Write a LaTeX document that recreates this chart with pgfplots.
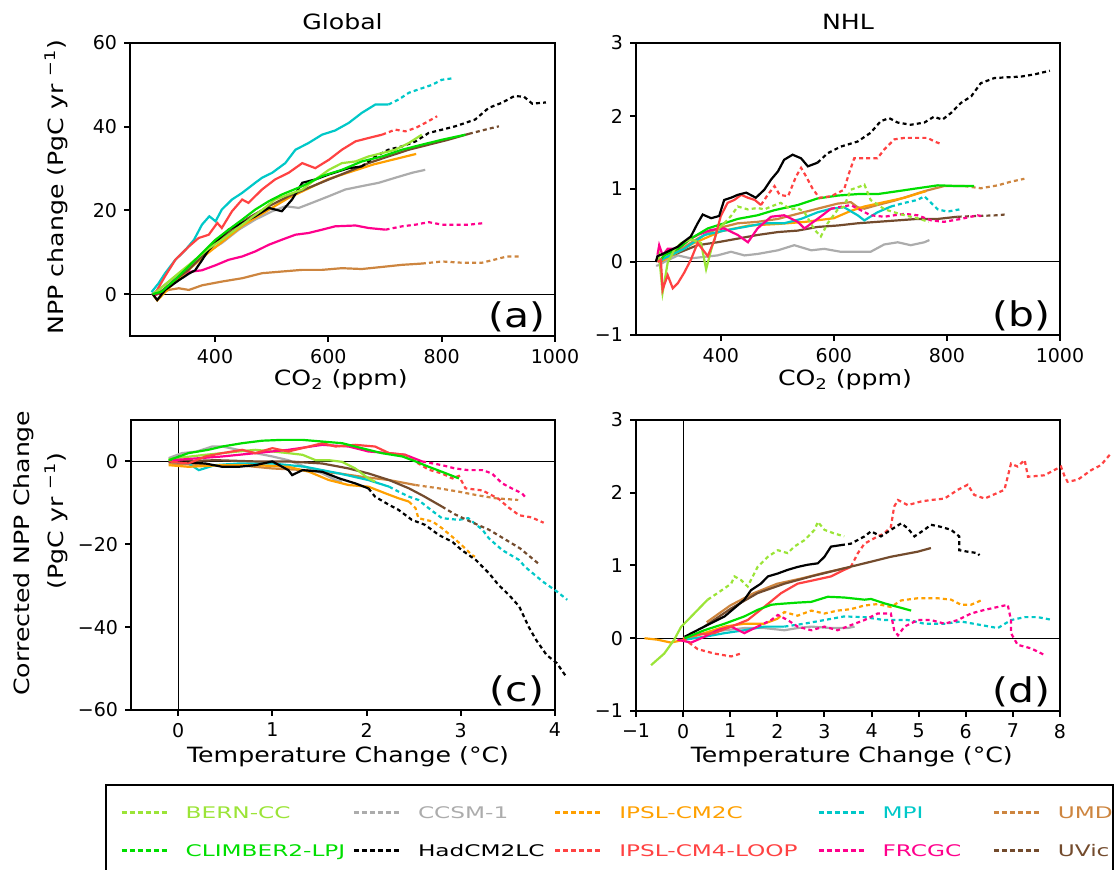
\documentclass[border=0pt]{standalone}
\usepackage{fontspec}
\setmainfont{DejaVu Sans}[FakeStretch=1.2]
\newfontfamily\tickfont{DejaVu Sans}
\newfontfamily\legfont{DejaVu Sans}[FakeStretch=1.45]
\usepackage{pgfplots}
\pgfplotsset{compat=1.18}

\definecolor{cbern}{RGB}{155,228,55}
\definecolor{cclim}{RGB}{0,222,0}
\definecolor{cccsm}{RGB}{172,172,172}
\definecolor{chad}{RGB}{0,0,0}
\definecolor{cipsl}{RGB}{255,160,0}
\definecolor{cloop}{RGB}{255,66,66}
\definecolor{cmpi}{RGB}{0,200,200}
\definecolor{cfrc}{RGB}{255,0,140}
\definecolor{cumd}{RGB}{205,133,63}
\definecolor{cuvic}{RGB}{115,75,45}

\tikzset{tl/.style={dash pattern=on 2pt off 1.6pt}}

\pgfplotsset{
  panel/.style={
    scale only axis, clip=false, no markers,
    axis line style={line width=1.1pt},
    tick align=outside, tick pos=left,
    major tick length=3pt,
    every tick/.style={black, line width=1pt},
    tick label style={font=\tickfont\fontsize{9.5}{11}\selectfont},
    /pgf/number format/assume math mode=true,
    label style={font=\fontsize{10.5}{12}\selectfont},
    title style={font=\fontsize{10.5}{12}\selectfont, at={(0.5,1)}, anchor=center, yshift=4.5pt},
    every axis plot/.append style={line width=1.1pt},
  },
  co2/.style={xmin=250, xmax=1000, xtick={400,600,800,1000}, xticklabels={400,600,800,1000},
    xlabel={CO\textsubscript{2} (ppm)}},
  temp/.style={xlabel={Temperature Change (°C)}},
}

\newcommand{\plab}[1]{\node[font=\fontsize{17}{17}\selectfont] at (axis description cs:0.91,0.065) {(#1)};}

\begin{document}
\begin{tikzpicture}

% ---------------- (a) Global, CO2 ----------------
\begin{axis}[panel, co2, at={(65pt,267pt)}, anchor=south west,
  width=212.5pt, height=146.5pt,
  ymin=-10, ymax=60, ytick={0,20,40,60},
  title={Global},
  ylabel={NPP change (PgC yr \textsuperscript{−1})},
  xlabel style={at={(axis description cs:0.496,-0.150)}, anchor=center},
  ylabel style={at={(axis description cs:-0.174,0.509)}, anchor=center},
]
\draw[line width=0.5pt] (axis cs:250,0) -- (axis cs:1000,0);
% UMD
\addplot[cumd] coordinates {(290,0)(295,-0.2)(318,1)(336,1.4)(354,1)(377,2.1)(412,3)(448,3.8)(483,5)(518,5.4)(554,5.8)(589,5.8)(624,6.2)(659,6)(695,6.5)(730,7)(765,7.3)};
\addplot[cumd,tl] coordinates {(765,7.3)(801,7.8)(836,7.5)(871,7.5)(895,8.3)(915,9)(940,9)};
% FRCGC
\addplot[cfrc] coordinates {(290,0.3)(295,-0.2)(318,1.8)(336,4.3)(354,5.3)(377,5.7)(401,6.9)(424,8.2)(448,9)(471,10.2)(495,11.8)(518,13)(542,14.2)(565,14.6)(589,15.4)(612,16.2)(648,16.4)(671,15.8)(701,15.4)};
\addplot[cfrc,tl] coordinates {(701,15.4)(730,16.2)(754,16.6)(777,17.2)(801,16.6)(824,16.6)(848,16.6)(877,17)};
% CCSM-1
\addplot[cccsm] coordinates {(288,0)(295,0.6)(324,3.5)(354,6.7)(383,9.8)(412,12.2)(442,15.4)(471,17.8)(501,19.8)(524,21)(548,20.6)(571,21.8)(601,23.4)(630,25)(659,25.8)(689,26.6)(718,27.8)(748,29)(771,29.7)};
% MPI
\addplot[cmpi] coordinates {(288,0.5)(300,2.5)(312,5)(330,8.2)(348,10.6)(363,13)(377,16.6)(390,18.6)(401,17.4)(412,20.2)(430,22.6)(448,24.2)(471,26.6)(483,27.8)(501,29)(524,31.3)(542,34.5)(565,36.1)(589,38.1)(612,39.1)(636,40.9)(659,43.3)(683,45.3)(706,45.3)};
\addplot[cmpi,tl] coordinates {(706,45.3)(724,46.5)(742,48.1)(759,48.9)(783,50)(800,51.2)(821,51.6)};
% IPSL-CM4-LOOP
\addplot[cloop] coordinates {(292,0)(295,0.3)(312,4.3)(330,8.2)(354,11.4)(371,13.4)(389,14.2)(404,17)(412,15.8)(430,19.8)(448,22.6)(459,21.8)(483,25)(506,27.4)(530,29)(554,31.3)(577,30.1)(601,32.1)(624,34.5)(648,36.5)(671,37.3)(695,38.1)};
\addplot[cloop,tl] coordinates {(695,38.1)(718,39.3)(736,38.9)(754,39.7)(771,40.9)(792,42.5)};
% IPSL-CM2C
\addplot[cipsl] coordinates {(290,0)(298,-1.5)(330,3)(380,9)(450,16.5)(530,23)(600,27.5)(680,31)(755,33.5)};
% UVic
\addplot[cuvic] coordinates {(290,0)(301,0.2)(330,3.5)(354,5.9)(377,9)(401,12.2)(430,15.4)(459,18.2)(495,21)(530,23.4)(565,25.4)(601,27.4)(636,29.3)(671,31.3)(706,32.9)(742,34.5)(777,35.7)(812,36.9)(848,38.3)};
\addplot[cuvic,tl] coordinates {(848,38.3)(877,39.3)(901,40.1)};
% HadCM2LC
\addplot[chad] coordinates {(290,0)(298,-1.4)(312,1)(336,3.3)(354,4.9)(365,5.7)(377,8.1)(389,10.6)(406,13)(424,15.4)(448,17)(471,18.6)(495,20.6)(518,19.8)(536,22.6)(554,26.6)(577,27.4)(601,28.6)(636,30.1)(659,30.5)};
\addplot[chad,tl] coordinates {(659,30.5)(683,32.9)(706,34.5)(730,35.3)(754,36.5)(777,38.5)(801,39.3)(824,40.1)(859,41.7)(883,44.5)(906,45.7)(928,47.3)(945,47.2)(960,45.5)(984,45.8)};
% BERN-CC
\addplot[cbern] coordinates {(290,0)(301,1)(318,3)(342,5.7)(365,8.2)(389,10.9)(412,13)(436,15.4)(459,17.7)(483,20.1)(506,22.6)(530,23.8)(554,25)(577,27.4)(601,29.7)(624,31.3)(648,31.7)(671,32.9)(695,33.7)(718,34.5)(742,36.1)(765,38.1)};
% CLIMBER2-LPJ
\addplot[cclim] coordinates {(290,0)(306,0.6)(330,3.5)(354,6.7)(377,9.8)(401,13)(424,15.4)(448,17.8)(471,20.2)(495,22.2)(518,23.8)(554,25.8)(589,28.2)(624,29.7)(659,31.7)(695,32.9)(730,34.5)(765,35.7)(801,36.9)(842,38.1)};
\plab{a}
\end{axis}

% ---------------- (b) NHL, CO2 ----------------
\begin{axis}[panel, co2, at={(318pt,267.5pt)}, anchor=south west,
  width=212pt, height=146pt,
  ymin=-1, ymax=3, ytick={-1,0,1,2,3}, yticklabels={−1,0,1,2,3},
  title={NHL},
  xlabel style={at={(axis description cs:0.493,-0.154)}, anchor=center},
]
\draw[line width=0.5pt] (axis cs:250,0) -- (axis cs:1000,0);
% CCSM-1
\addplot[cccsm] coordinates {(285,-0.05)(288,-0.05)(300,0)(324,0.09)(347,0.05)(371,0.07)(394,0.09)(418,0.14)(442,0.09)(465,0.11)(501,0.16)(530,0.23)(560,0.16)(583,0.18)(612,0.14)(642,0.14)(665,0.14)(689,0.24)(713,0.27)(736,0.23)(760,0.27)(769,0.3)};
% UVic
\addplot[cuvic] coordinates {(290,0)(300,0.05)(330,0.14)(359,0.23)(394,0.27)(430,0.32)(465,0.37)(501,0.41)(536,0.43)(571,0.48)(607,0.5)(642,0.53)(677,0.55)(713,0.57)(748,0.59)(784,0.59)(819,0.62)};
\addplot[cuvic,tl] coordinates {(819,0.62)(854,0.63)(890,0.64)(902,0.65)};
% UMD
\addplot[cumd] coordinates {(290,0)(300,0.05)(330,0.18)(359,0.32)(394,0.46)(430,0.53)(465,0.55)(501,0.59)(536,0.66)(571,0.73)(607,0.8)(630,0.82)(642,0.75)(654,0.73)(677,0.78)(707,0.84)(736,0.91)(760,0.97)(795,1.04)(831,1.04)};
\addplot[cumd,tl] coordinates {(831,1.04)(860,1.01)(890,1.05)(913,1.1)(937,1.14)};
% IPSL-CM2C
\addplot[cipsl] coordinates {(290,0)(300,0.03)(350,0.25)(400,0.42)(450,0.5)(500,0.52)(550,0.55)(600,0.6)(630,0.7)(654,0.76)(689,0.82)(725,0.88)(754,0.95)(763,0.97)};
% MPI
\addplot[cmpi] coordinates {(290,0)(300,0.05)(335,0.18)(371,0.37)(406,0.43)(442,0.48)(477,0.53)(512,0.53)(542,0.59)(571,0.68)(595,0.73)(618,0.75)(642,0.64)(654,0.57)(677,0.68)(701,0.76)};
\addplot[cmpi,tl] coordinates {(701,0.76)(725,0.81)(748,0.85)(760,0.9)(772,0.81)(784,0.72)(801,0.69)(822,0.72)};
% FRCGC
\addplot[cfrc] coordinates {(288,0.1)(291,0.23)(297,0.09)(306,0.18)(324,0.18)(347,0.32)(359,0.37)(383,0.44)(406,0.46)(430,0.37)(448,0.27)(465,0.46)(489,0.62)(512,0.64)(536,0.55)(548,0.46)(571,0.59)(595,0.73)};
\addplot[cfrc,tl] coordinates {(595,0.73)(630,0.78)(665,0.64)(689,0.62)(725,0.66)(748,0.64)(772,0.57)(795,0.55)(825,0.59)(854,0.64)(866,0.62)};
% CLIMBER2-LPJ
\addplot[cclim] coordinates {(290,0)(300,0.09)(324,0.18)(347,0.32)(377,0.46)(406,0.53)(430,0.59)(465,0.64)(495,0.71)(536,0.78)(571,0.87)(607,0.91)(642,0.93)(677,0.93)(713,0.97)(748,1.01)(784,1.05)(819,1.04)(848,1.04)};
% BERN-CC
\addplot[cbern] coordinates {(288,0)(291,0.08)(297,-0.42)(306,-0.01)(318,0.17)(330,0.26)(347,0.31)(365,0.26)(374,-0.1)(383,0.17)(394,0.44)(406,0.53)};
\addplot[cbern,tl] coordinates {(406,0.53)(418,0.63)(430,0.76)(448,0.72)(465,0.74)(477,0.72)(489,0.76)(506,0.81)(524,0.72)(536,0.74)(548,0.68)(566,0.44)(577,0.35)(589,0.53)(607,0.72)(618,0.76)(630,0.99)(648,1.04)(654,1.06)(665,0.85)(690,0.72)(720,0.65)(747,0.6)(768,0.55)};
% IPSL-CM4-LOOP
\addplot[cloop] coordinates {(288,0)(294,0.03)(297,-0.38)(306,-0.18)(315,-0.36)(324,-0.29)(335,-0.15)(347,0.03)(359,0.26)(368,0.17)(377,0.08)(389,0.31)(400,0.63)(412,0.81)(424,0.85)(436,0.92)(448,0.88)(460,0.85)(471,0.78)};
\addplot[cloop,tl] coordinates {(471,0.78)(483,0.92)(495,1.04)(504,0.92)(519,0.9)(533,1.17)(542,1.29)(551,1.17)(562,1.01)(574,0.88)(595,0.9)(618,0.99)(627,1.22)(636,1.42)(654,1.42)(677,1.42)(689,1.54)(707,1.68)(725,1.7)(748,1.7)(766,1.7)(778,1.65)(792,1.61)};
% HadCM2LC
\addplot[chad] coordinates {(285,0)(288,0.08)(300,0.12)(324,0.21)(335,0.28)(347,0.35)(359,0.53)(368,0.65)(383,0.6)(397,0.63)(406,0.85)(418,0.88)(430,0.92)(445,0.95)(462,0.88)(477,0.99)(489,1.13)(501,1.24)(512,1.4)(527,1.47)(542,1.42)(554,1.31)(571,1.36)};
\addplot[chad,tl] coordinates {(571,1.36)(589,1.49)(612,1.58)(642,1.65)(665,1.77)(683,1.93)(698,1.97)(713,1.91)(736,1.88)(760,1.91)(777,1.99)(792,1.95)(807,2.04)(825,2.18)(843,2.27)(860,2.45)(884,2.52)(907,2.53)(931,2.54)(955,2.57)(982,2.62)};
\plab{b}
\end{axis}

% ---------------- (c) Global, temperature ----------------
\begin{axis}[panel, temp, at={(65.5pt,80pt)}, anchor=south west,
  width=212pt, height=145pt,
  xmin=-0.5, xmax=4, xtick={0,1,2,3,4},
  ymin=-60, ymax=10, ytick={-60,-40,-20,0}, yticklabels={−60,−40,−20,0},
  ylabel={Corrected NPP Change},
  xlabel style={at={(axis description cs:0.512,-0.162)}, anchor=center},
  ylabel style={at={(axis description cs:-0.252,0.541)}, anchor=center},
]
\draw[line width=0.5pt] (axis cs:-0.5,0) -- (axis cs:4,0);
\draw[line width=0.5pt] (axis cs:0,-60) -- (axis cs:0,10);
\node[rotate=90, font=\fontsize{10.5}{12}\selectfont] at (axis description cs:-0.177,0.652) {(PgC yr \textsuperscript{−1})};
% UMD
\addplot[cumd] coordinates {(-0.1,-0.5)(0.29,-0.9)(0.64,-0.9)(1,-1.7)(1.35,-2.1)(1.71,-2.9)(1.95,-3.7)(2.24,-4.5)(2.52,-5.7)};
\addplot[cumd,tl] coordinates {(2.52,-5.7)(2.77,-6.5)(2.98,-7.3)(3.16,-8.1)(3.37,-8.9)(3.61,-9.3)};
% CCSM-1
\addplot[cccsm] coordinates {(-0.1,0.8)(0.04,2)(0.2,2.4)(0.36,3.6)(0.47,3.6)(0.64,2.8)(0.82,2)(1,1.2)(1.17,0.3)(1.35,-1.3)(1.53,-2.9)(1.67,-4.5)(1.74,-4.9)};
% MPI
\addplot[cmpi] coordinates {(-0.1,0)(0.11,-0.5)(0.22,-2.1)(0.39,-0.9)(0.64,-0.5)(1,-0.5)(1.35,-1.3)(1.71,-2.9)(2.02,-4.5)(2.24,-6.1)};
\addplot[cmpi,tl] coordinates {(2.24,-6.1)(2.34,-7.3)(2.45,-8.5)(2.55,-9.3)(2.66,-11.3)(2.8,-13.7)(2.98,-14.1)(3.08,-13.7)(3.23,-16.5)(3.3,-18.6)(3.44,-21.4)(3.62,-23.8)(3.68,-25.4)(3.87,-29)(4.02,-31.4)(4.13,-33.4)};
% IPSL-CM2C
\addplot[cipsl] coordinates {(-0.1,-0.9)(0.11,-1.3)(0.47,-0.9)(0.82,-0.9)(1.17,-1.3)(1.39,-2.5)(1.6,-4.5)(1.81,-5.7)(2.02,-6.1)(2.2,-7.7)(2.34,-8.9)(2.45,-9.7)};
\addplot[cipsl,tl] coordinates {(2.45,-9.7)(2.52,-11.3)(2.55,-13.7)(2.7,-14.5)(2.8,-16.1)(2.91,-18.2)(3.01,-20.2)(3.12,-22.6)(3.15,-23)};
% UVic
\addplot[cuvic] coordinates {(0,0)(0.4,0.3)(0.82,0)(1.17,0)(1.53,-0.5)(1.81,-1.7)(2.02,-2.9)(2.24,-4.5)(2.45,-6.5)(2.6,-8.3)(2.8,-10.9)};
\addplot[cuvic,tl] coordinates {(2.8,-10.9)(2.94,-12.8)(3.1,-14.5)(3.3,-16.5)(3.47,-18.8)(3.63,-21)(3.82,-24.6)};
% HadCM2LC
\addplot[chad] coordinates {(-0.1,0)(0.29,-0.5)(0.47,-1.3)(0.64,-1.3)(0.82,-0.9)(1,0)(1.17,-2.1)(1.21,-3.3)(1.32,-2.1)(1.53,-2.5)(1.71,-4.1)(1.88,-5.3)(2.02,-6.5)};
\addplot[chad,tl] coordinates {(2.02,-6.5)(2.09,-8.5)(2.24,-10.5)(2.34,-11.7)(2.48,-14.1)(2.62,-15.3)(2.77,-17.8)(2.91,-19.4)(3.01,-21.4)(3.16,-23.8)(3.3,-27)(3.4,-29.8)(3.51,-32.2)(3.62,-35)(3.72,-39.9)(3.8,-43.1)(3.91,-46.7)(4.02,-48.7)(4.12,-52)};
% BERN-CC
\addplot[cbern] coordinates {(-0.1,0.5)(-0.06,0.7)(0.29,1.6)(0.64,2.4)(0.82,2.8)(1,2.4)(1.17,2)(1.32,1.6)(1.46,0.3)(1.6,0.3)(1.74,-0.1)(1.88,-1.7)(2.02,-4.1)(2.09,-4.9)};
% FRCGC
\addplot[cfrc] coordinates {(-0.06,0.3)(0.47,1.2)(0.82,2)(1.17,2.8)(1.53,4)(1.81,3.6)(2.02,2.4)(2.24,2)(2.41,1.6)(2.59,0)};
\addplot[cfrc,tl] coordinates {(2.59,0)(2.8,-0.9)(2.94,-1.7)(3.08,-2.1)(3.23,-2.1)(3.33,-2.9)(3.44,-5.3)(3.54,-6.5)(3.65,-7.7)(3.68,-8.5)};
% IPSL-CM4-LOOP
\addplot[cloop] coordinates {(-0.1,0)(0.11,-0.5)(0.29,1.2)(0.47,2)(0.68,2.8)(0.82,2)(1,3.2)(1.17,2.4)(1.39,3.6)(1.53,4.4)(1.67,3.6)(1.88,4)(2.09,3.6)(2.24,2)(2.41,1.6)};
\addplot[cloop,tl] coordinates {(2.41,1.6)(2.55,-0.5)(2.66,-2)(2.8,-2.9)(2.91,-4.1)(2.98,-3.5)(3.05,-6.5)(3.23,-7)(3.4,-9)(3.5,-11)(3.62,-13)(3.75,-13.5)(3.88,-14.8)};
% CLIMBER2-LPJ
\addplot[cclim] coordinates {(-0.1,0.3)(0.11,2)(0.32,2.8)(0.47,3.6)(0.68,4.4)(0.89,5)(1.1,5.2)(1.32,5.2)(1.53,4.8)(1.74,4.4)(1.95,3.2)(2.16,2)(2.38,1.2)(2.52,0)(2.66,-1.3)(2.8,-2.5)(2.98,-4.1)};
\plab{c}
\end{axis}

% ---------------- (d) NHL, temperature ----------------
\begin{axis}[panel, temp, at={(318pt,79.5pt)}, anchor=south west,
  width=212pt, height=145.5pt,
  xmin=-1, xmax=8, xtick={-1,0,1,2,3,4,5,6,7,8}, xticklabels={−1,0,1,2,3,4,5,6,7,8},
  ymin=-1, ymax=3, ytick={-1,0,1,2,3}, yticklabels={−1,0,1,2,3},
  xlabel style={at={(axis description cs:0.509,-0.158)}, anchor=center},
  legend columns=5, legend cell align=left,
  legend image code/.code={\draw[#1, line width=1.2pt, dash pattern=on 2.5pt off 1.5pt] (0pt,0pt) -- (24pt,0pt); \path (31.5pt,0pt);},
  legend style={at={(axis description cs:-1.217,-0.3265)}, anchor=north west,
    draw=none, fill=none, inner sep=0pt, row sep=13pt,
    nodes={inner sep=0pt, text height=6pt, text depth=0pt, font=\legfont\fontsize{8}{9}\selectfont}},
]
\draw[line width=0.5pt] (axis cs:-1,0) -- (axis cs:8,0);
\draw[line width=0.5pt] (axis cs:0,-1) -- (axis cs:0,3);
\addlegendimage{cbern}\addlegendentry{\makebox[83.5pt][l]{\textcolor{cbern}{BERN-CC}}}
\addlegendimage{cccsm}\addlegendentry{\makebox[68pt][l]{\textcolor{cccsm}{CCSM-1}}}
\addlegendimage{cipsl}\addlegendentry{\makebox[99pt][l]{\textcolor{cipsl}{IPSL-CM2C}}}
\addlegendimage{cmpi}\addlegendentry{\makebox[55pt][l]{\textcolor{cmpi}{MPI}}}
\addlegendimage{cumd}\addlegendentry{\makebox[30pt][l]{\textcolor{cumd}{UMD}}}
\addlegendimage{cclim}\addlegendentry{\textcolor{cclim}{CLIMBER2-LPJ}}
\addlegendimage{chad}\addlegendentry{\textcolor{chad}{HadCM2LC}}
\addlegendimage{cloop}\addlegendentry{\textcolor{cloop}{IPSL-CM4-LOOP}}
\addlegendimage{cfrc}\addlegendentry{\textcolor{cfrc}{FRCGC}}
\addlegendimage{cuvic}\addlegendentry{\textcolor{cuvic}{UVic}}
% CCSM-1
\addplot[cccsm, forget plot] coordinates {(0,0)(0.45,0.07)(0.88,0.11)(1.3,0.14)(1.72,0.14)(2.15,0.11)(2.43,0.14)(2.72,0.16)(3.14,0.14)(3.49,0.14)(3.64,0.16)};
% UMD
\addplot[cumd, forget plot] coordinates {(0.5,0.22)(1,0.45)(1.5,0.62)(2,0.75)(2.5,0.82)(3,0.9)(3.5,0.97)};
% IPSL-CM2C
\addplot[cipsl, forget plot] coordinates {(-0.82,0)(-0.54,-0.02)(-0.26,-0.06)(0.03,-0.02)(0.45,0.07)(0.88,0.16)(1.3,0.2)(1.72,0.2)(2.01,0.27)};
\addplot[cipsl, tl, forget plot] coordinates {(2.01,0.27)(2.15,0.36)(2.43,0.31)(2.72,0.38)(3,0.34)(3.28,0.38)(3.56,0.4)(3.85,0.45)(4.13,0.47)(4.41,0.43)(4.63,0.52)(4.98,0.55)(5.4,0.55)(5.69,0.53)(5.9,0.46)(6.11,0.46)(6.36,0.53)};
% MPI
\addplot[cmpi, forget plot] coordinates {(0.03,-0.02)(0.45,0.02)(0.88,0.07)(1.3,0.11)(1.72,0.16)(2.15,0.16)};
\addplot[cmpi, tl, forget plot] coordinates {(2.15,0.16)(2.57,0.2)(3,0.25)(3.42,0.3)(3.85,0.29)(4.27,0.25)(4.77,0.25)(5.12,0.2)(5.55,0.2)(5.9,0.23)(6.25,0.19)(6.68,0.14)(6.96,0.25)(7.25,0.29)(7.53,0.29)(7.85,0.25)};
% FRCGC
\addplot[cfrc, forget plot] coordinates {(-0.12,-0.02)(0.17,-0.06)(0.45,0.02)(0.73,0.11)(1.02,0.16)(1.3,0.07)(1.58,0.16)};
\addplot[cfrc, tl, forget plot] coordinates {(1.58,0.16)(1.87,0.25)(2.01,0.32)(2.22,0.25)(2.43,0.16)(2.72,0.11)(3,0.16)(3.28,0.11)(3.56,0.18)(3.85,0.25)(4.13,0.34)(4.41,0.34)(4.48,0.11)(4.56,0.04)(4.7,0.16)(4.98,0.25)(5.26,0.25)(5.55,0.2)(5.83,0.25)(6.11,0.34)(6.4,0.39)(6.68,0.43)(6.89,0.46)(6.96,0.25)(6.96,0.07)(7.1,-0.09)(7.39,-0.14)(7.67,-0.23)};
% BERN-CC
\addplot[cbern, forget plot] coordinates {(-0.68,-0.37)(-0.4,-0.21)(-0.19,-0.02)(-0.04,0.16)(0.1,0.25)(0.31,0.39)(0.52,0.53)};
\addplot[cbern, tl, forget plot] coordinates {(0.52,0.53)(0.73,0.62)(1.02,0.75)(1.09,0.85)(1.23,0.8)(1.37,0.71)(1.58,0.98)(1.8,1.12)(2.01,1.21)(2.22,1.17)(2.36,1.26)(2.58,1.35)(2.79,1.49)(2.86,1.6)(3,1.49)(3.21,1.44)(3.42,1.4)};
% IPSL-CM4-LOOP
\addplot[cloop, tl, forget plot] coordinates {(0,0)(0.31,-0.15)(0.66,-0.21)(1.02,-0.25)(1.23,-0.21)};
\addplot[cloop, forget plot] coordinates {(0,0)(0.3,0.05)(0.66,0.07)(1.02,0.16)(1.37,0.25)(1.72,0.43)(2.08,0.62)(2.43,0.75)(2.79,0.8)(3.14,0.85)(3.42,0.94)(3.56,0.98)};
\addplot[cloop, tl, forget plot] coordinates {(3.56,0.98)(3.71,1.17)(3.85,1.3)(3.99,1.35)(4.13,1.4)(4.27,1.44)(4.41,1.53)(4.48,1.81)(4.56,1.9)(4.77,1.83)(5.05,1.88)(5.26,1.9)(5.55,1.92)(5.83,2.04)(6.04,2.11)(6.18,1.97)(6.4,1.92)(6.82,2.04)(6.96,2.4)(7.1,2.36)(7.25,2.45)(7.32,2.22)(7.67,2.24)(8.02,2.36)(8.09,2.24)(8.16,2.15)(8.38,2.18)(8.66,2.31)(8.87,2.38)(9.08,2.54)};
% UVic
\addplot[cuvic, forget plot] coordinates {(0.45,0.16)(1.02,0.41)(1.58,0.62)(2.15,0.75)(2.72,0.85)(3.28,0.94)(3.85,1.03)(4.41,1.12)(4.98,1.19)(5.26,1.24)};
% HadCM2LC
\addplot[chad, forget plot] coordinates {(0.03,0.02)(0.45,0.16)(0.88,0.3)(1.3,0.53)(1.44,0.66)(1.65,0.75)(1.8,0.85)(2.01,0.89)(2.22,0.94)(2.43,0.98)(2.64,1.01)(2.86,1.03)(3,1.12)(3.14,1.26)(3.35,1.28)};
\addplot[chad, tl, forget plot] coordinates {(3.35,1.28)(3.56,1.3)(3.85,1.4)(3.99,1.47)(4.2,1.4)(4.41,1.49)(4.63,1.58)(4.77,1.51)(4.91,1.4)(5.12,1.49)(5.26,1.56)(5.48,1.53)(5.69,1.49)(5.86,1.4)(5.86,1.21)(6.04,1.19)(6.25,1.17)(6.29,1.14)};
% CLIMBER2-LPJ
\addplot[cclim, forget plot] coordinates {(0.03,0)(0.45,0.11)(0.88,0.2)(1.3,0.3)(1.58,0.39)(1.87,0.46)(2.01,0.47)(2.43,0.49)(2.72,0.5)(3.07,0.57)(3.42,0.56)(3.85,0.53)(3.99,0.54)(4.27,0.48)(4.56,0.43)(4.84,0.38)};
\plab{d}
\end{axis}

\draw[line width=1.1pt] (53pt,-10pt) rectangle (556.5pt,42.5pt);
\pgfresetboundingbox
\useasboundingbox (0pt,0pt) rectangle (558.5pt,435pt);
\end{tikzpicture}
\end{document}
